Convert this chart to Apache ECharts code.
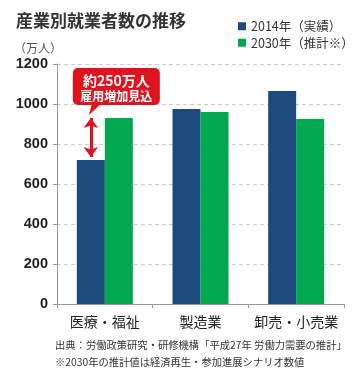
<!DOCTYPE html>
<html><head><meta charset="utf-8">
<script src="https://cdn.jsdelivr.net/npm/echarts@6/dist/echarts.min.js"></script>
<style>html,body{margin:0;padding:0;background:#fff}#c{width:359px;height:384px}</style>
</head><body><div id="c"></div>
<script>
const categories = ['医療・福祉', '製造業', '卸売・小売業'];
const values2014 = [720, 975, 1065];
const values2030 = [930, 960, 925];
const seriesNames = ['2014年（実績）', '2030年（推計※）'];
const yTicks = [0, 200, 400, 600, 800, 1000, 1200];
const arrowRange = [735, 930];

const FONT = '"Noto Sans CJK JP", "Noto Sans", sans-serif';
const BLUE = '#1d4a7c', GREEN = '#00a84f', RED = '#e0141e';
const BAR_W = 28;

const chart = echarts.init(document.getElementById('c'), null, {renderer: 'canvas'});
const option = {
  animation: false,
  textStyle: {fontFamily: FONT},
  title: {text: '産業別就業者数の推移', left: 11, top: 7,
    textStyle: {fontSize: 17, fontWeight: 'bold', color: '#333', fontFamily: FONT}},
  legend: {orient: 'vertical', left: 233, top: 15, itemWidth: 8, itemHeight: 8, itemGap: 4,
    icon: 'rect', data: seriesNames,
    textStyle: {fontSize: 12.5, color: '#333', fontFamily: FONT}},
  grid: {left: 57, right: 15, top: 64, bottom: 80},
  xAxis: {type: 'category', data: categories,
    axisLine: {lineStyle: {color: '#999'}},
    axisTick: {show: true, length: 4, lineStyle: {color: '#999'}},
    axisLabel: {interval: 0, fontSize: 14, color: '#222', margin: 11, fontFamily: FONT}},
  yAxis: {type: 'value', min: yTicks[0], max: yTicks[yTicks.length - 1], interval: 200,
    axisLine: {show: true, lineStyle: {color: '#999'}},
    axisTick: {show: true, length: 4, lineStyle: {color: '#999'}},
    axisLabel: {fontSize: 14.5, fontWeight: 'bold', color: '#222', margin: 9,
      fontFamily: 'Liberation Sans, Arial, sans-serif', formatter: v => String(v)},
    splitLine: {lineStyle: {color: '#ccc', type: [4, 3]}}},
  series: [
    {name: seriesNames[0], type: 'bar', data: values2014, barWidth: BAR_W, barGap: '0%',
      itemStyle: {color: BLUE},
      markLine: {silent: true, symbol: ['arrow', 'arrow'], symbolSize: [11, 10],
        label: {show: false}, lineStyle: {color: RED, width: 3, type: 'solid'},
        data: [[{coord: [0, arrowRange[0]]}, {coord: [0, arrowRange[1]]}]]}},
    {name: seriesNames[1], type: 'bar', data: values2030, barWidth: BAR_W,
      itemStyle: {color: GREEN}}
  ],
  graphic: [
    {type: 'text', left: 14, top: 42, style: {text: '（万人）', fill: '#555', font: '12px ' + FONT}},
    {type: 'text', left: 55, top: 340, style: {text: '出典：労働政策研究・研修機構「平成27年 労働力需要の推計」', fill: '#333', font: '10.3px ' + FONT}},
    {type: 'text', left: 55, top: 357, style: {text: '※2030年の推計値は経済再生・参加進展シナリオ数値', fill: '#333', font: '10.3px ' + FONT}}
  ]
};
chart.setOption(option);

// callout anchored to top of the arrow
const c = chart.convertToPixel({seriesIndex: 0}, [0, arrowRange[1]]);
const tx = c[0] - BAR_W / 2, ty = c[1] - 3;
const rx = tx - 18, ry = ty - 47, rw = 87, rh = 37;
chart.setOption({graphic: option.graphic.concat([
  {type: 'rect', shape: {x: rx, y: ry, width: rw, height: rh, r: 5}, style: {fill: RED}, z: 100},
  {type: 'polygon', shape: {points: [[tx + 1, ry + rh - 1], [tx + 10, ry + rh - 1], [tx - 2, ty]]}, style: {fill: RED}, z: 100},
  {type: 'text', x: rx + rw / 2, y: ry + 13, z: 101,
    style: {text: '約250万人', fill: '#fff', font: 'bold 14px ' + FONT, align: 'center', verticalAlign: 'middle'}},
  {type: 'text', x: rx + rw / 2, y: ry + 28, z: 101,
    style: {text: '雇用増加見込', fill: '#fff', font: 'bold 12px ' + FONT, align: 'center', verticalAlign: 'middle'}}
])});
</script></body></html>
